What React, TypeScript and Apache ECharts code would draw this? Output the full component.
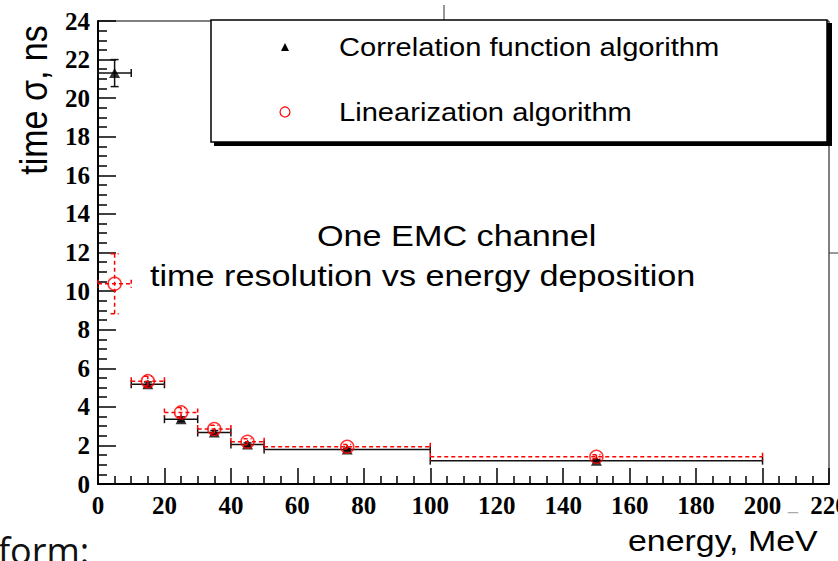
import React, { useEffect, useRef } from "react";
import * as echarts from "echarts";

// ---- data ----
const energy = [5, 15, 25, 35, 45, 75, 150];
const energyHalfWidth = [5, 5, 5, 5, 5, 25, 50];
const corrSigma = [21.3, 5.17, 3.36, 2.67, 2.05, 1.79, 1.21];
const corrErr = [0.7, 0.12, 0.12, 0.1, 0.08, 0.06, 0.05];
const linSigma = [10.38, 5.33, 3.71, 2.85, 2.19, 1.93, 1.41];
const linErr = [1.55, 0.25, 0.25, 0.2, 0.15, 0.12, 0.1];

const seriesNames = ["Correlation function algorithm", "Linearization algorithm"];
const titleLines = ["One EMC channel", "time resolution vs energy deposition"];
const xAxisTitle = "energy, MeV";
const yAxisTitle = "time σ, ns";

const SANS = "'Liberation Sans', Arial, sans-serif";
const SERIF = "'Liberation Serif', 'Times New Roman', serif";

function errData(vals: number[], errs: number[]) {
  return energy.map((e, i) => [e, energyHalfWidth[i], vals[i], errs[i]]);
}

function makeErrRender(color: string, dash: number[] | null) {
  return (params: any, api: any) => {
    const x = api.value(0);
    const xe = api.value(1);
    const y = api.value(2);
    const ye = api.value(3);
    const pL = api.coord([x - xe, y]);
    const pR = api.coord([x + xe, y]);
    const pT = api.coord([x, y + ye]);
    const pB = api.coord([x, y - ye]);
    const cap = 4;
    const style: any = { stroke: color, lineWidth: 1.5, fill: null };
    if (dash) style.lineDash = dash;
    const ln = (x1: number, y1: number, x2: number, y2: number) => ({
      type: "line",
      shape: { x1, y1, x2, y2 },
      style,
    });
    return {
      type: "group",
      children: [
        ln(pL[0], pL[1], pR[0], pR[1]),
        ln(pL[0], pL[1] - cap, pL[0], pL[1] + cap),
        ln(pR[0], pR[1] - cap, pR[0], pR[1] + cap),
        ln(pB[0], pB[1], pT[0], pT[1]),
        ln(pT[0] - cap, pT[1], pT[0] + cap, pT[1]),
        ln(pB[0] - cap, pB[1], pB[0] + cap, pB[1]),
      ],
    };
  };
}

function txt(
  text: string,
  x: number,
  y: number,
  size: number,
  opts: any = {}
) {
  return {
    type: "text",
    x,
    y,
    rotation: opts.rotation || 0,
    scaleX: opts.scaleX || 1,
    scaleY: opts.scaleY || 1,
    z: 100,
    style: {
      text,
      x: 0,
      y: 0,
      fill: opts.color || "#000",
      fontSize: size,
      fontFamily: opts.family || SANS,
      fontWeight: opts.weight || "normal",
      align: opts.align || "left",
      textAlign: opts.align || "left",
      verticalAlign: "middle",
      textVerticalAlign: "middle",
    },
  };
}

export default function App() {
  const ref = useRef<HTMLDivElement>(null);
  useEffect(() => {
    if (!ref.current) return;
    const chart = echarts.init(ref.current, null, { renderer: "svg" });
    const axisLabel = {
      fontFamily: SERIF,
      fontWeight: "bold",
      fontSize: 25,
      color: "#000",
    };
    chart.setOption({
      animation: false,
      backgroundColor: "#fff",
      grid: {
        left: 98,
        right: 9,
        top: 21,
        bottom: 77,
        outerBoundsMode: "none",
        containLabel: false,
        show: true,
        borderColor: "#000",
        borderWidth: 1,
      },
      xAxis: {
        type: "value",
        min: 0,
        max: 220,
        interval: 20,
        axisLine: { onZero: false, lineStyle: { color: "#000", width: 2 } },
        axisTick: { inside: true, length: 16, lineStyle: { color: "#000", width: 1.5 } },
        minorTick: { show: true, splitNumber: 4, length: 8, lineStyle: { color: "#000", width: 1.5 } },
        splitLine: { show: false },
        axisLabel: { ...axisLabel, margin: 9 },
      },
      yAxis: {
        type: "value",
        min: 0,
        max: 24,
        interval: 2,
        axisLine: { onZero: false, lineStyle: { color: "#000", width: 2 } },
        axisTick: { inside: true, length: 18, lineStyle: { color: "#000", width: 1.5 } },
        minorTick: { show: true, splitNumber: 4, length: 9, lineStyle: { color: "#000", width: 1.5 } },
        splitLine: { show: false },
        axisLabel: { ...axisLabel, margin: 8, padding: [5, 0, 0, 0] },
      },
      series: [
        {
          type: "custom",
          name: seriesNames[0] + " errors",
          data: errData(corrSigma, corrErr),
          renderItem: makeErrRender("#111", null),
          z: 3,
        },
        {
          type: "scatter",
          name: seriesNames[0],
          data: energy.map((e, i) => [e, corrSigma[i]]),
          symbol: "triangle",
          symbolSize: [11, 10],
          itemStyle: { color: "#000" },
          z: 4,
        },
        {
          type: "custom",
          name: seriesNames[1] + " errors",
          data: errData(linSigma, linErr),
          renderItem: makeErrRender("#ff0000", [4, 3]),
          z: 5,
        },
        {
          type: "scatter",
          name: seriesNames[1],
          data: energy.map((e, i) => [e, linSigma[i]]),
          symbol: "circle",
          symbolSize: 13,
          itemStyle: { color: "rgba(0,0,0,0)", borderColor: "#ff0000", borderWidth: 1.5 },
          z: 6,
        },
      ],
      graphic: [
        // slide artefacts
        { type: "line", shape: { x1: 444, y1: 5, x2: 444, y2: 20 }, style: { stroke: "#333", lineWidth: 1 }, z: 100 },
        { type: "line", shape: { x1: 829, y1: 253, x2: 838, y2: 253 }, style: { stroke: "#333", lineWidth: 1 }, z: 100 },
        // legend box with shadow
        { type: "rect", shape: { x: 214, y: 23, width: 618, height: 123 }, style: { fill: "#000" }, z: 100 },
        { type: "rect", shape: { x: 211, y: 20, width: 616, height: 122 }, style: { fill: "#fff", stroke: "#000", lineWidth: 1.5 }, z: 101 },
        { type: "polygon", shape: { points: [[285, 43], [281, 51], [289, 51]] }, style: { fill: "#000" }, z: 102 },
        { type: "circle", shape: { cx: 285, cy: 112, r: 5 }, style: { fill: "none", stroke: "#ff0000", lineWidth: 1.2 }, z: 102 },
        { ...txt(seriesNames[0], 339, 47, 26, { scaleX: 1.12 }), z: 102 },
        { ...txt(seriesNames[1], 339, 112, 26, { scaleX: 1.12 }), z: 102 },
        // in-plot title
        txt(titleLines[0], 317, 236, 30, { scaleX: 1.14 }),
        txt(titleLines[1], 150, 276, 30, { scaleX: 1.14 }),
        // axis titles
        txt(xAxisTitle, 628, 541, 30, { scaleX: 1.13 }),
        txt(yAxisTitle, 34, 100, 34, { rotation: Math.PI / 2, scaleY: 1.14, align: "center" }),
        // slide text cut at the bottom
        txt("form:", -2, 550, 36, { family: "'Open Sans', 'Noto Sans', sans-serif", color: "#111" }),
        txt("_", 788, 503, 18, { color: "#aaa" }),
      ],
    });
    return () => chart.dispose();
  }, []);
  return (
    <div
      ref={ref}
      style={{ position: "fixed", left: 0, top: 0, width: 838, height: 561 }}
    />
  );
}
